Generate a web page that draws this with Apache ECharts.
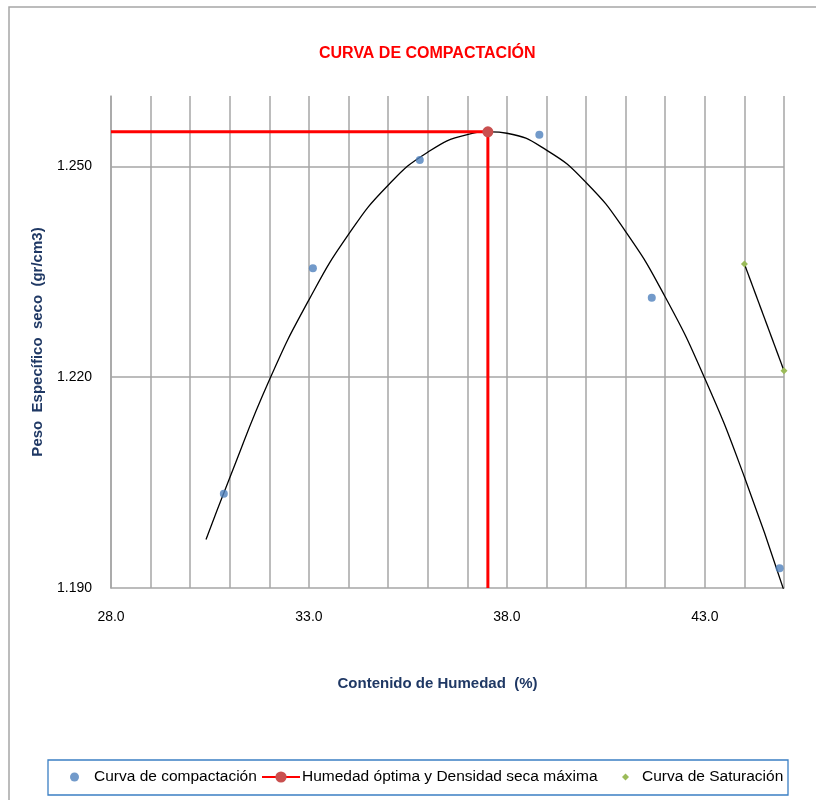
<!DOCTYPE html>
<html>
<head>
<meta charset="utf-8">
<script src="https://cdn.jsdelivr.net/npm/echarts@6/dist/echarts.min.js"></script>
<style>
  html, body { margin: 0; padding: 0; background: #fff; }
  #main { width: 816px; height: 800px; }
</style>
</head>
<body>
<div id="main"></div>
<script>
// curva de compactacion
var puntosCompactacion = [
    [30.85, 1.2034],
    [33.10, 1.2355],
    [35.80, 1.2509],
    [38.82, 1.2545],
    [41.66, 1.2313],
    [44.89, 1.1928]
];
// linea de tendencia (leida punto a punto)
var curvaX = [30.4, 31, 32, 33, 34, 35, 36, 37, 37.6, 38, 39, 40, 41, 42, 43, 44, 45];
var curvaY = [1.1969, 1.2057, 1.2196, 1.2310, 1.2403, 1.2473, 1.2520, 1.2545, 1.2549, 1.2547, 1.2523, 1.2477, 1.2407, 1.2314, 1.2198, 1.2058, 1.1896];
// humedad optima y densidad seca maxima
var humedadOptima = 37.52;
var densidadMaxima = 1.2549;
// curva de saturacion
var saturacion = [
    [44.0, 1.2361],
    [45.0, 1.2209]
];
var xLabels = [28, 33, 38, 43];
var yTicks = [1.19, 1.22, 1.25];

var chart = echarts.init(document.getElementById('main'));

var curva = [];
for (var i = 0; i < curvaX.length; i++) {
    curva.push([curvaX[i], curvaY[i]]);
}
var lineaMax = [[28, densidadMaxima], [humedadOptima, densidadMaxima], [humedadOptima, 1.19]];
var gridLines = [];
for (var k = 1; k < yTicks.length; k++) {
    gridLines.push({ yAxis: yTicks[k] });
}

var fuente = 'Liberation Sans';
var azul = '#1f3864';
var textoLeyenda = { fontFamily: fuente, fontSize: 15.5, color: '#000', lineHeight: 18 };

var option = {
    backgroundColor: '#fff',
    animation: false,
    graphic: [{
        type: 'rect',
        shape: { x: 9, y: 7, width: 830, height: 820 },
        style: { fill: 'none', stroke: '#a6a6a6', lineWidth: 1.5 },
        silent: true
    }, {
        type: 'rect',
        shape: { x: 48, y: 760, width: 740, height: 35 },
        style: { fill: 'none', stroke: '#3b7fc4', lineWidth: 1.3 },
        silent: true
    }],
    title: {
        text: 'CURVA DE COMPACTACIÓN',
        left: 314,
        top: 41,
        textStyle: { color: '#ff0000', fontFamily: fuente, fontWeight: 'bold', fontSize: 16 }
    },
    legend: [{
        left: 70,
        top: 768,
        padding: 0,
        itemWidth: 9,
        itemHeight: 9,
        textStyle: Object.assign({ padding: [0, 0, 0, 10] }, textoLeyenda),
        data: [{ name: 'Curva de compactación', icon: 'circle' }]
    }, {
        left: 261,
        top: 768,
        padding: 0,
        itemWidth: 38,
        itemHeight: 14,
        textStyle: Object.assign({ padding: [0, 0, 0, -3] }, textoLeyenda),
        data: [{ name: 'Humedad óptima y Densidad seca máxima' }]
    }, {
        left: 622,
        top: 768,
        padding: 0,
        itemWidth: 7,
        itemHeight: 7,
        textStyle: Object.assign({ padding: [0, 0, 0, 8] }, textoLeyenda),
        data: [{ name: 'Curva de Saturación', icon: 'diamond' }]
    }],
    grid: { left: 111, right: 32, top: 96, bottom: 212 },
    xAxis: {
        type: 'value',
        min: 28,
        max: 45,
        interval: 1,
        name: 'Contenido de Humedad  (%)',
        nameLocation: 'middle',
        nameGap: 88,
        nameTextStyle: { color: azul, fontFamily: fuente, fontWeight: 'bold', fontSize: 15, padding: [0, 20, 0, 0] },
        axisLine: { lineStyle: { color: '#a6a6a6', width: 1.5 } },
        axisTick: { show: false },
        axisLabel: {
            margin: 22,
            color: '#000',
            fontFamily: fuente,
            fontSize: 14,
            formatter: function (v) {
                return xLabels.indexOf(Math.round(v * 100) / 100) >= 0 ? v.toFixed(1) : '';
            }
        },
        splitLine: { show: true, lineStyle: { color: '#a6a6a6', width: 1.5 } }
    },
    yAxis: {
        type: 'value',
        min: 1.19,
        max: 1.26,
        interval: 0.03,
        name: 'Peso  Específico  seco  (gr/cm3)',
        nameLocation: 'middle',
        nameGap: 66,
        nameTextStyle: { color: azul, fontFamily: fuente, fontWeight: 'bold', fontSize: 15 },
        axisLine: { show: true, lineStyle: { color: '#a6a6a6', width: 1.5 } },
        axisTick: { show: false },
        axisLabel: {
            margin: 19,
            color: '#000',
            fontFamily: fuente,
            fontSize: 14,
            showMaxLabel: false,
            formatter: function (v) { return v.toFixed(3); }
        },
        splitLine: { show: false }
    },
    series: [
        {
            name: 'tendencia',
            type: 'line',
            data: curva,
            smooth: true,
            symbol: 'none',
            lineStyle: { color: '#000', width: 1.3 },
            z: 3,
            markLine: {
                silent: true,
                symbol: 'none',
                label: { show: false },
                lineStyle: { color: '#a6a6a6', width: 1.5, type: 'solid' },
                data: gridLines,
                z: 1
            }
        },
        {
            name: 'Humedad óptima y Densidad seca máxima',
            type: 'line',
            data: lineaMax,
            symbol: 'circle',
            symbolSize: function (v, p) { return p.dataIndex === 1 ? 11 : 0; },
            itemStyle: { color: '#c9504f' },
            lineStyle: { color: '#ff0000', width: 3 },
            z: 4
        },
        {
            name: 'Curva de compactación',
            type: 'scatter',
            data: puntosCompactacion,
            symbol: 'circle',
            symbolSize: 8,
            itemStyle: { color: '#4f81bd' },
            z: 5
        },
        {
            name: 'Curva de Saturación',
            type: 'line',
            data: saturacion,
            symbol: 'diamond',
            symbolSize: 7,
            itemStyle: { color: '#9bbb59' },
            lineStyle: { color: '#000', width: 1.3 },
            z: 5
        }
    ]
};

chart.setOption(option);
</script>
</body>
</html>
